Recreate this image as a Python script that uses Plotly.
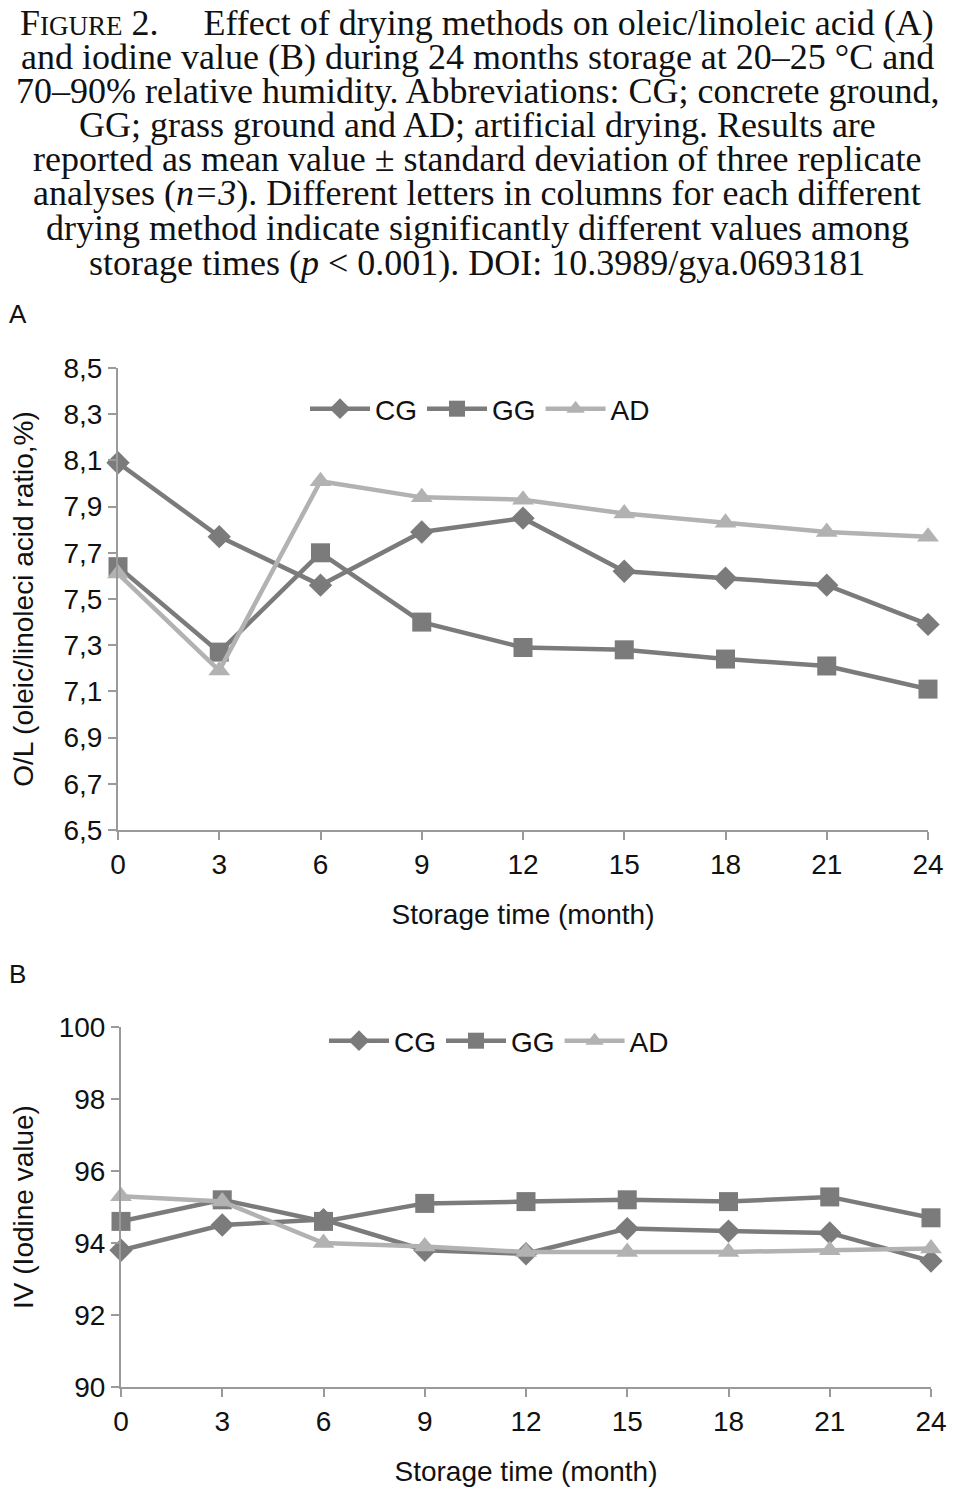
import plotly.graph_objects as go

# storage time in months
months = [0, 3, 6, 9, 12, 15, 18, 21, 24]

# panel A: oleic/linoleic ratio
ol_cg = [8.09, 7.77, 7.56, 7.79, 7.85, 7.62, 7.59, 7.56, 7.39]
ol_gg = [7.64, 7.27, 7.70, 7.40, 7.29, 7.28, 7.24, 7.21, 7.11]
ol_ad = [7.61, 7.19, 8.01, 7.94, 7.93, 7.87, 7.83, 7.79, 7.77]

# panel B: iodine value
iv_cg = [93.8, 94.5, 94.65, 93.8, 93.7, 94.4, 94.33, 94.28, 93.5]
iv_gg = [94.6, 95.2, 94.6, 95.1, 95.15, 95.2, 95.15, 95.28, 94.7]
iv_ad = [95.3, 95.15, 94.0, 93.9, 93.75, 93.75, 93.75, 93.8, 93.85]

ol_ticks = [6.5, 6.7, 6.9, 7.1, 7.3, 7.5, 7.7, 7.9, 8.1, 8.3, 8.5]
iv_ticks = [90, 92, 94, 96, 98, 100]

caption = [
    "F<span style='font-size:27px'>IGURE</span> 2.\u00a0\u00a0\u00a0\u00a0 Effect of drying methods on oleic/linoleic acid (A)",
    "and iodine value (B) during 24 months storage at 20\u201325 \u00b0C and",
    "70\u201390% relative humidity. Abbreviations: CG; concrete ground,",
    "GG; grass ground and AD; artificial drying. Results are",
    "reported as mean value \u00b1 standard deviation of three replicate",
    "analyses (<i>n=3</i>). Different letters in columns for each different",
    "drying method indicate significantly different values among",
    "storage times (<i>p</i> < 0.001). DOI: 10.3989/gya.0693181",
]

DARK = "#7b7b7b"
LIGHT = "#b2b2b2"
AXIS = "#9a9a9a"
NARROW = "Liberation Sans Narrow, Arial Narrow, Liberation Sans, Arial"
SANS = "Liberation Sans, Arial"

# the page has an 8px body margin, so the figure is drawn 8px smaller
OFF = 8
W, H = 955 - OFF, 1487 - OFF

series = [
    ("CG", DARK, "diamond", 18),
    ("GG", DARK, "square", 19),
    ("AD", LIGHT, "triangle-up", 19),
]

fig = go.Figure()
for (name, color, symbol, size), ya, yb in zip(series, [ol_cg, ol_gg, ol_ad], [iv_cg, iv_gg, iv_ad]):
    fig.add_trace(go.Scatter(
        x=months, y=ya, name=name, mode="lines+markers",
        line=dict(color=color, width=4.5),
        marker=dict(symbol=symbol, size=size, color=color),
        cliponaxis=False, xaxis="x", yaxis="y", legend="legend",
    ))
    fig.add_trace(go.Scatter(
        x=months, y=yb, name=name, mode="lines+markers",
        line=dict(color=color, width=4.5),
        marker=dict(symbol=symbol, size=size, color=color),
        cliponaxis=False, xaxis="x2", yaxis="y2", legend="legend2",
    ))


def px_x(p):
    return (p - OFF) / W


def px_y(p):
    return 1 - (p - OFF) / H


axis_common = dict(
    showline=True, linecolor=AXIS, linewidth=2, showgrid=False, zeroline=False,
    ticks="outside", ticklen=8, tickcolor=AXIS, tickwidth=2, automargin=False,
    tickfont=dict(family=NARROW, size=28, color="#111"),
)

fig.update_layout(
    width=W, height=H,
    margin=dict(l=0, r=0, t=0, b=0),
    paper_bgcolor="white", plot_bgcolor="white",
    separators=",.",
    xaxis=dict(domain=[px_x(118), px_x(928)], range=[0, 24], tickvals=months,
               anchor="y", **axis_common,
               title=dict(text="Storage time (month)", standoff=26,
                          font=dict(family=NARROW, size=28, color="#111"))),
    yaxis=dict(domain=[px_y(830), px_y(368)], range=[6.5, 8.5], tickvals=ol_ticks,
               tickformat=".1f", anchor="x", **axis_common,
               title=dict(text="O/L (oleic/linoleci acid ratio,%)", standoff=22,
                          font=dict(family=SANS, size=28, color="#111"))),
    xaxis2=dict(domain=[px_x(121), px_x(931)], range=[0, 24], tickvals=months,
                anchor="y2", **axis_common,
                title=dict(text="Storage time (month)", standoff=26,
                           font=dict(family=NARROW, size=28, color="#111"))),
    yaxis2=dict(domain=[px_y(1387), px_y(1027)], range=[90, 100], tickvals=iv_ticks,
                anchor="x2", **axis_common,
                title=dict(text="IV (Iodine value)", standoff=22,
                           font=dict(family=SANS, size=28, color="#111"))),
    legend=dict(orientation="h", x=px_x(305), y=px_y(409), xanchor="left", yanchor="middle",
                font=dict(family=SANS, size=28, color="#111"), itemwidth=60,
                bgcolor="rgba(0,0,0,0)", tracegroupgap=0),
    legend2=dict(orientation="h", x=px_x(324), y=px_y(1041), xanchor="left", yanchor="middle",
                 font=dict(family=SANS, size=28, color="#111"), itemwidth=60,
                 bgcolor="rgba(0,0,0,0)", tracegroupgap=0),
)

centers = [23, 57, 91, 125, 159, 193, 228, 263]
for line, yc in zip(caption, centers):
    fig.add_annotation(text=line, x=px_x(477), y=px_y(yc), xref="paper", yref="paper",
                       xanchor="center", yanchor="middle", showarrow=False,
                       font=dict(family="Liberation Serif, Times New Roman, serif", size=36, color="#111"))

for label, yc in [("A", 314), ("B", 974)]:
    fig.add_annotation(text=label, x=px_x(7), y=px_y(yc), xref="paper", yref="paper",
                       xanchor="left", yanchor="middle", showarrow=False,
                       font=dict(family=NARROW, size=26, color="#111"))

fig.write_html("out.html")
